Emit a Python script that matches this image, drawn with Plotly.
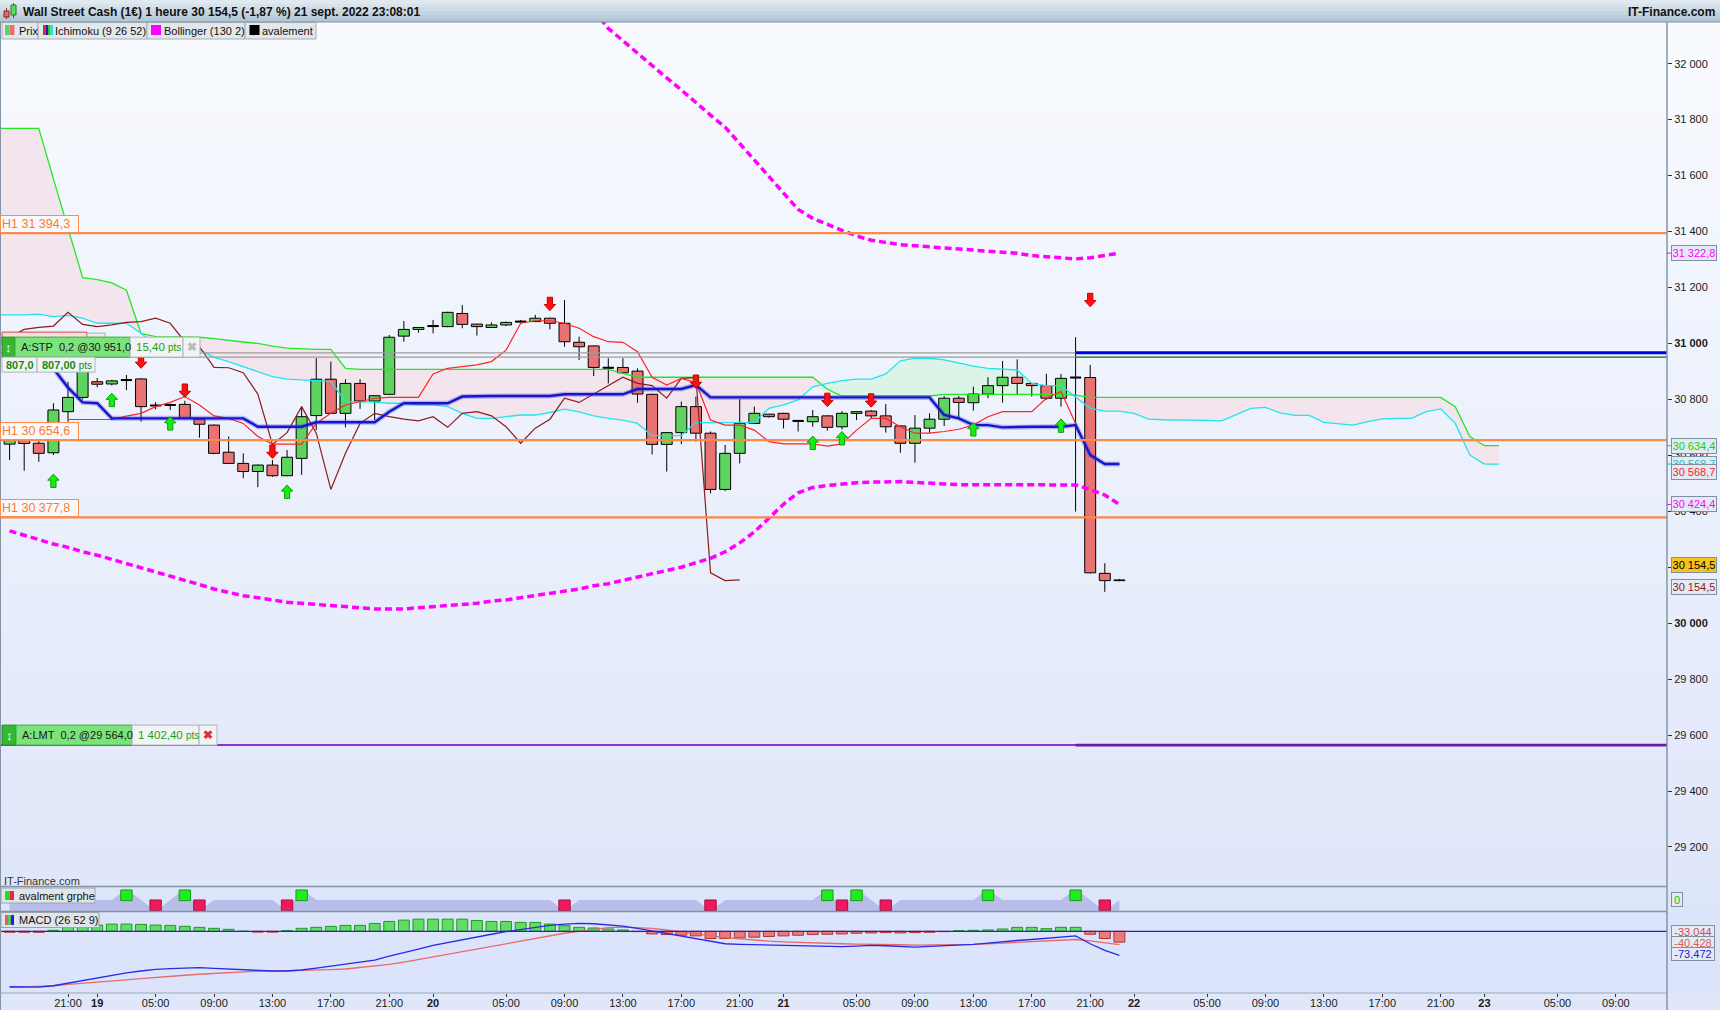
import plotly.graph_objects as go

W, H = 1720, 1010
FONT = "Liberation Sans, Arial, sans-serif"

# ---------------- data: hourly candles (bar index; 0 = Fri 21:00) ----------------
bar_index = list(range(-4, 73))
opens = [30640, 30665, 30643, 30609, 30756, 30807, 30863, 30855, 30869, 30873,
         30778, 30780, 30782, 30729, 30708, 30611, 30571, 30542, 30565, 30527,
         30589, 30742, 30872, 30750, 30857, 30794, 30818, 31026, 31050, 31062,
         31060, 31107, 31069, 31057, 31066, 31078, 31078, 31090, 31072, 31004,
         30991, 30913, 30914, 30901, 30818, 30639, 30681, 30774, 30679, 30478,
         30607, 30714, 30747, 30750, 30723, 30720, 30741, 30702, 30750, 30758,
         30741, 30705, 30643, 30697, 30729, 30804, 30788, 30819, 30849, 30879,
         30857, 30849, 30804, 30878, 30878, 30178, 30152]
highs = [30668, 30675, 30662, 30786, 30863, 30935, 30876, 30870, 30887, 30876,
         30790, 30784, 30795, 30731, 30710, 30667, 30607, 30567, 30583, 30619,
         30774, 30947, 30935, 30872, 30872, 30815, 31030, 31080, 31058, 31084,
         31113, 31137, 31070, 31075, 31078, 31084, 31102, 31092, 31155, 31024,
         30992, 30947, 30947, 30911, 30820, 30683, 30792, 30810, 30685, 30637,
         30801, 30774, 30748, 30752, 30725, 30762, 30743, 30758, 30758, 30762,
         30783, 30707, 30744, 30750, 30812, 30812, 30845, 30879, 30937, 30943,
         30858, 30891, 30891, 31022, 30923, 30214, 30158]
lows = [30583, 30545, 30577, 30601, 30720, 30800, 30843, 30850, 30833, 30720,
        30764, 30762, 30728, 30663, 30604, 30570, 30518, 30486, 30523, 30525,
        30530, 30690, 30748, 30700, 30766, 30726, 30815, 31006, 31038, 31036,
        31058, 31054, 31028, 31055, 31062, 31074, 31077, 31050, 30988, 30941,
        30883, 30857, 30893, 30788, 30603, 30542, 30640, 30649, 30464, 30472,
        30571, 30712, 30735, 30696, 30685, 30702, 30688, 30693, 30726, 30732,
        30681, 30609, 30574, 30679, 30705, 30730, 30760, 30804, 30788, 30819,
        30810, 30798, 30774, 30399, 30178, 30112, 30150]
closes = [30660, 30642, 30607, 30762, 30807, 30905, 30854, 30866, 30869, 30774,
          30778, 30780, 30732, 30711, 30607, 30571, 30542, 30565, 30527, 30593,
          30738, 30872, 30750, 30857, 30794, 30813, 31022, 31050, 31057, 31062,
          31111, 31068, 31060, 31066, 31075, 31078, 31090, 31072, 31006, 30988,
          30914, 30913, 30895, 30819, 30639, 30681, 30774, 30679, 30478, 30607,
          30714, 30750, 30738, 30729, 30723, 30738, 30700, 30750, 30756, 30741,
          30702, 30643, 30697, 30729, 30804, 30789, 30819, 30849, 30879, 30857,
          30849, 30804, 30875, 30878, 30180, 30152, 30154.5]

# ---------------- Ichimoku (9 26 52) ----------------
tenkan_index = list(range(0, 73))
tenkan = [30728, 30728, 30728, 30728, 30740, 30750, 30774, 30789, 30810, 30780,
          30741, 30732, 30714, 30667, 30640, 30640, 30640, 30714, 30750, 30780,
          30792, 30804, 30807, 30807, 30807, 30891, 30911, 30917, 30923, 30935,
          30976, 31072, 31081, 31081, 31072, 31054, 31024, 31006, 31004, 30970,
          30879, 30851, 30875, 30860, 30726, 30708, 30708, 30690, 30649, 30641,
          30641, 30641, 30633, 30641, 30690, 30732, 30732, 30702, 30679, 30679,
          30685, 30693, 30708, 30738, 30756, 30756, 30756, 30804, 30828, 30714,
          30600, 30568.7, 30568.7]
kijun_index = list(range(-1, 73))
kijun = [30910, 30842, 30789, 30786, 30732, 30732, 30732, 30732, 30732, 30732,
         30732, 30732, 30732, 30732, 30702, 30702, 30702, 30702, 30718, 30718,
         30718, 30718, 30718, 30756, 30786, 30786, 30786, 30786, 30810, 30812,
         30812, 30812, 30812, 30812, 30812, 30818, 30818, 30818, 30818, 30818,
         30837, 30837, 30837, 30837, 30851, 30807, 30807, 30807, 30807, 30807,
         30807, 30807, 30807, 30807, 30807, 30807, 30807, 30807, 30807, 30807,
         30807, 30744, 30732, 30708, 30708, 30700, 30702, 30702, 30702, 30702,
         30708, 30601, 30568.7, 30568.7]
senkou_index = list(range(-5, 99))
senkou_a = [31769, 31769, 31769, 31769, 31588, 31412, 31235, 31228, 31216, 31190, 31036,
            31024, 31024, 31022, 31022, 31017, 31010, 31005, 31000, 30990, 30983,
            30980, 30979, 30979, 30911, 30907, 30907, 30907, 30907, 30907, 30907,
            30907, 30907, 30907, 30907, 30907, 30907, 30907, 30907, 30907, 30907,
            30907, 30907, 30893, 30879, 30879, 30879, 30879, 30879, 30879, 30879,
            30879, 30879, 30879, 30879, 30879, 30879, 30836, 30812, 30812, 30812,
            30812, 30812, 30812, 30812, 30818, 30818, 30818, 30818, 30818, 30818,
            30818, 30818, 30818, 30815, 30807, 30807, 30807, 30807, 30807, 30807,
            30807, 30807, 30807, 30807, 30807, 30807, 30807, 30807, 30807, 30807,
            30807, 30807, 30807, 30807, 30807, 30807, 30807, 30807, 30807, 30774,
            30667, 30634.4, 30634.4]
senkou_b = [31102, 31102, 31102, 31105, 31096, 31100, 31090, 31072, 31072, 31072, 31036,
            30995, 30980, 30975, 30978, 30950, 30935, 30917, 30899, 30881, 30872,
            30870, 30867, 30864, 30792, 30792, 30790, 30786, 30786, 30780, 30780,
            30774, 30750, 30732, 30732, 30738, 30744, 30744, 30753, 30765, 30755,
            30741, 30732, 30726, 30714, 30670, 30670, 30670, 30717, 30717, 30717,
            30717, 30717, 30768, 30780, 30798, 30845, 30857, 30867, 30872, 30872,
            30891, 30938, 30947, 30947, 30941, 30929, 30919, 30911, 30909, 30905,
            30857, 30849, 30849, 30810, 30768, 30758, 30758, 30750, 30729, 30727,
            30727, 30727, 30725, 30723, 30746, 30768, 30771, 30752, 30743, 30743,
            30718, 30712, 30708, 30720, 30730, 30732, 30732, 30756, 30766, 30714,
            30601, 30568.7, 30568.7]
chikou_lag = 26

# ---------------- Bollinger (130 2) ----------------
boll_up_index = list(range(36, 73))
boll_up = [32192, 32126, 32082, 32039, 31992, 31949, 31906, 31859, 31816, 31773,
           31714, 31655, 31596, 31537, 31479, 31447, 31424, 31404, 31384, 31369,
           31361, 31353, 31349, 31345, 31341, 31337, 31333, 31330, 31326, 31322,
           31314, 31310, 31306, 31302, 31306, 31314, 31322.8]
boll_low = [30330, 30314, 30298, 30283, 30271, 30255, 30243, 30228, 30216, 30200,
            30185, 30169, 30153, 30138, 30122, 30110, 30098, 30091, 30083, 30075,
            30071, 30067, 30063, 30059, 30055, 30051, 30051, 30051, 30055, 30059,
            30063, 30067, 30071, 30079, 30083, 30091, 30098, 30106, 30114, 30122,
            30134, 30141, 30153, 30165, 30177, 30189, 30200, 30216, 30232, 30255,
            30287, 30326, 30377, 30425, 30466, 30485, 30492, 30498, 30502, 30504,
            30506, 30506, 30503, 30500, 30498, 30495, 30495, 30495, 30495, 30495,
            30495, 30495, 30495, 30494, 30478, 30458, 30424.4]

# ---------------- levels / orders ----------------
h1_levels = [31394.3, 30654.6, 30377.8]
stop_level = 30951.0
stop_target = 30966.4
limit_level = 29564.0
order_bar = 69

# ---------------- avalement signals ----------------
sell_arrow_bars = [5, 8, 14, 33, 43, 52, 55, 70]
sell_arrow_tips = [30911, 30807, 30589, 31117, 30839, 30774, 30772, 31131]
buy_arrow_bars = [-1, 3, 7, 15, 51, 53, 62, 68]
buy_arrow_tips = [30533, 30822, 30738, 30494, 30669, 30685, 30717, 30730]
aval_buy_bars = [4, 8, 16, 52, 54, 63, 69]
aval_sell_bars = [6, 9, 15, 34, 44, 53, 56, 71]

# ---------------- MACD (26 52 9) ----------------
macd = [-169, -170, -170, -166, -158, -150, -143, -134, -127, -121,
        -116, -114, -112, -111, -113, -115, -117, -120, -121, -121,
        -118, -112, -107, -100, -94, -88, -76, -66, -54, -43,
        -34, -25, -17, -9, -1, 6, 12, 18, 22, 24,
        23, 20, 16, 9, 1, -7, -14, -22, -32, -38,
        -40, -41, -42, -43, -44, -45, -46, -47, -45, -43,
        -44, -46, -48, -46, -44, -43, -40, -36, -31, -28,
        -25, -22, -19, -14, -38, -58, -73.472]
signal = [-171, -170, -168, -166, -162, -159, -155, -152, -148, -144,
          -140, -137, -134, -131, -128, -126, -124, -122, -121, -121,
          -121, -119, -117, -115, -111, -107, -101, -94, -86, -78,
          -70, -62, -54, -46, -37, -29, -21, -13, -6, 0,
          6, 11, 13, 12, 9, 4, -2, -8, -14, -19,
          -23, -27, -30, -32, -34, -36, -37, -38, -39, -39,
          -40, -41, -42, -42, -42, -41, -40, -38, -36, -34,
          -32, -30, -28, -25, -29, -35, -40.428]
hist = [-3, -3, -3, 3, 14, 17, 19, 22, 22, 21,
        19, 18, 15, 12, 9, 6, 0, -2.5, -2.5, 2,
        9, 12, 15, 18, 18, 24, 30, 34, 37, 37,
        37, 37, 33, 30, 30, 27, 27, 22, 17, 12,
        10, 7, 4, -1, -8, -10, -12, -14, -22, -22,
        -20, -18, -16, -14, -12, -10, -9, -8, -6, -5,
        -4, -5, -4, -3, -1, 2, 3, 4, 7, 12,
        12, 8, 12, 12, -9, -22, -33.044]

# ---------------- axes labels ----------------
tick_bars = [0, 2, 6, 10, 14, 18, 22, 25, 30, 34, 38, 42, 46, 49, 54, 58, 62, 66,
             70, 73, 78, 82, 86, 90, 94, 97, 102, 106]
tick_labels = ['21:00', '<b>19</b>', '05:00', '09:00', '13:00', '17:00', '21:00', '<b>20</b>',
               '05:00', '09:00', '13:00', '17:00', '21:00', '<b>21</b>', '05:00', '09:00',
               '13:00', '17:00', '21:00', '<b>22</b>', '05:00', '09:00', '13:00', '17:00',
               '21:00', '<b>23</b>', '05:00', '09:00']
price_ticks = [29200, 29400, 29600, 29800, 30000, 30200, 30400, 30600, 30800,
               31000, 31200, 31400, 31600, 31800, 32000]
price_tick_text = ['29 200', '29 400', '29 600', '29 800', '<b>30 000</b>', '30 200', '30 400',
                   '30 600', '30 800', '<b>31 000</b>', '31 200', '31 400', '31 600', '31 800', '32 000']

for arr in (opens, highs, lows, closes, boll_low, macd, signal, hist):
    assert len(arr) == len(bar_index)
assert len(tenkan) == len(tenkan_index) and len(kijun) == len(kijun_index)
assert len(senkou_a) == len(senkou_index) and len(senkou_b) == len(senkou_index)
assert len(boll_up) == len(boll_up_index)

# ---------------- geometry ----------------
PLOT_RIGHT = 1667
X_RANGE = [-4.657, 109.5]
MAIN_TOP, MAIN_BOT = 22, 886
AVAL_TOP, AVAL_BOT = 887, 911
MACD_TOP, MACD_BOT = 912, 993
MAIN_RANGE = [29060.4, 32148.9]
AVAL_RANGE = [-1.0, 1.18]
MACD_RANGE = [-188.1, 58.8]
BODY_W = 0.75


def xp(px):
    return px / W


def yp(py):
    return 1 - py / H


def price_px(p):
    return MAIN_TOP + (MAIN_RANGE[1] - p) / (MAIN_RANGE[1] - MAIN_RANGE[0]) * (MAIN_BOT - MAIN_TOP)


def fmt_price(v):
    return f"{v:,.1f}".replace(",", " ").replace(".", ",")


shapes = []
annotations = []


def rect(x0, y0, x1, y1, fill, line=None, lw=1, layer='above'):
    shapes.append(dict(type='rect', xref='paper', yref='paper', x0=xp(x0), x1=xp(x1),
                       y0=yp(y1), y1=yp(y0), fillcolor=fill,
                       line=dict(color=line if line else fill, width=lw if line else 0),
                       layer=layer))


def pline(x0, y0, x1, y1, color, w=1, layer='above'):
    shapes.append(dict(type='line', xref='paper', yref='paper', x0=xp(x0), x1=xp(x1),
                       y0=yp(y0), y1=yp(y1), line=dict(color=color, width=w), layer=layer))


def text(px, py, s, size=11, color='#111111', xanchor='left', yanchor='middle', **kw):
    annotations.append(dict(xref='paper', yref='paper', x=xp(px), y=yp(py), text=s,
                            showarrow=False, xanchor=xanchor, yanchor=yanchor,
                            font=dict(family=FONT, size=size, color=color), **kw))


def lerp(c1, c2, t):
    return 'rgb(%d,%d,%d)' % tuple(round(a + (b - a) * t) for a, b in zip(c1, c2))


# ---------------- backgrounds ----------------
n = 6
for k in range(n):
    rect(0, 22 * k / n, W, 22 * (k + 1) / n + 0.6,
         lerp((224, 233, 240), (178, 198, 213), k / (n - 1)), layer='below')
n = 40
for k in range(n):
    y0 = MAIN_TOP + (MAIN_BOT - MAIN_TOP) * k / n
    y1 = MAIN_TOP + (MAIN_BOT - MAIN_TOP) * (k + 1) / n
    rect(0, y0, W, y1 + 0.6, lerp((248, 250, 254), (224, 231, 250), k / (n - 1)), layer='below')
rect(0, MAIN_BOT, W, AVAL_BOT, 'rgb(221,229,250)', layer='below')
rect(0, AVAL_BOT, W, MACD_BOT, 'rgb(219,228,250)', layer='below')
rect(0, MACD_BOT, W, H, 'rgb(224,231,249)', layer='below')

# ---------------- kumo (cloud) as below-layer polygons ----------------
lower_env = [min(a, b) for a, b in zip(senkou_a, senkou_b)]


def band_path(xs, top, bottom):
    pts = list(zip(xs, top)) + list(zip(xs[::-1], bottom[::-1]))
    return 'M ' + ' L '.join(f'{x},{y}' for x, y in pts) + ' Z'


shapes.append(dict(type='path', xref='x', yref='y', layer='below', fillcolor='#f2e5ee',
                   line=dict(width=0), path=band_path(senkou_index, senkou_a, lower_env)))
shapes.append(dict(type='path', xref='x', yref='y', layer='below', fillcolor='#dcf4e8',
                   line=dict(width=0), path=band_path(senkou_index, senkou_b, lower_env)))

# ---------------- traces ----------------
fig = go.Figure()
common = dict(hoverinfo='skip', showlegend=False)

# candle bodies
body_base = [min(o, c) for o, c in zip(opens, closes)]
body_len = [abs(c - o) for o, c in zip(opens, closes)]
body_col = ['#5fd35f' if c > o else '#e97272' for o, c in zip(opens, closes)]
fig.add_trace(go.Bar(x=bar_index, y=body_len, base=body_base, width=BODY_W,
                     marker=dict(color=body_col, line=dict(color='#000000', width=1)), **common))
# wicks (above and below the body) and doji bars
wx, wy, dx, dy = [], [], [], []
for i, o, h, l, c in zip(bar_index, opens, highs, lows, closes):
    top, bot = max(o, c), min(o, c)
    wx += [i, i, None, i, i, None]
    wy += [h, top, None, bot, l, None]
    if o == c:
        dx += [i - BODY_W / 2, i + BODY_W / 2, None]
        dy += [o, c, None]
fig.add_trace(go.Scatter(x=wx, y=wy, mode='lines', line=dict(color='#000000', width=1), **common))
fig.add_trace(go.Scatter(x=dx, y=dy, mode='lines', line=dict(color='#000000', width=2), **common))

fig.add_trace(go.Scatter(x=senkou_index, y=senkou_a, mode='lines',
                         line=dict(color='#22e822', width=1.3), **common))
fig.add_trace(go.Scatter(x=senkou_index, y=senkou_b, mode='lines',
                         line=dict(color='#22e4ee', width=1.3), **common))
fig.add_trace(go.Scatter(x=bar_index[:-chikou_lag], y=closes[chikou_lag:], mode='lines',
                         line=dict(color='#8e1c1c', width=1.2), **common))
fig.add_trace(go.Scatter(x=tenkan_index, y=tenkan, mode='lines',
                         line=dict(color='#ff2424', width=1.2), **common))
fig.add_trace(go.Scatter(x=kijun_index, y=kijun, mode='lines',
                         line=dict(color='rgba(70,70,235,0.35)', width=5), **common))
fig.add_trace(go.Scatter(x=kijun_index, y=kijun, mode='lines',
                         line=dict(color='#1616c8', width=2.4), **common))
fig.add_trace(go.Scatter(x=boll_up_index, y=boll_up, mode='lines',
                         line=dict(color='#ff00ff', width=3.5, dash='7px,4px'), **common))
fig.add_trace(go.Scatter(x=bar_index, y=boll_low, mode='lines',
                         line=dict(color='#ff00ff', width=3.5, dash='7px,4px'), **common))

# avalement panel area
aval_values = [1 if i in aval_buy_bars else (-1 if i in aval_sell_bars else 0) for i in bar_index]
fig.add_trace(go.Scatter(x=bar_index, y=[AVAL_RANGE[0]] * len(bar_index), yaxis='y2', mode='lines',
                         line=dict(width=0), **common))
fig.add_trace(go.Scatter(x=bar_index, y=aval_values, yaxis='y2', mode='lines', line=dict(width=0),
                         fill='tonexty', fillcolor='#b8bee9', **common))

# MACD panel
fig.add_trace(go.Bar(x=bar_index, y=hist, yaxis='y3', width=BODY_W,
                     marker=dict(color=['#62dc62' if v >= 0 else '#ea7b7b' for v in hist],
                                 line=dict(color=['#1e9a1e' if v >= 0 else '#b03434' for v in hist],
                                           width=1)), **common))
fig.add_trace(go.Scatter(x=bar_index, y=signal, yaxis='y3', mode='lines',
                         line=dict(color='#e86a6a', width=1.3), **common))
fig.add_trace(go.Scatter(x=bar_index, y=macd, yaxis='y3', mode='lines',
                         line=dict(color='#2a2ae6', width=1.3), **common))

# ---------------- level lines ----------------
for lvl in h1_levels:
    shapes.append(dict(type='line', xref='paper', yref='y', x0=0, x1=xp(PLOT_RIGHT), y0=lvl, y1=lvl,
                       line=dict(color='#fb8a48', width=2.2)))
for lvl in (stop_target, stop_level):
    shapes.append(dict(type='line', xref='x', yref='y', x0=X_RANGE[0], x1=order_bar, y0=lvl, y1=lvl,
                       line=dict(color='#9c9c9c', width=1.3)))
shapes.append(dict(type='line', xref='x', yref='y', x0=order_bar, x1=X_RANGE[1], y0=stop_target,
                   y1=stop_target, line=dict(color='#0000f0', width=3)))
shapes.append(dict(type='line', xref='x', yref='y', x0=order_bar, x1=X_RANGE[1], y0=stop_level,
                   y1=stop_level, line=dict(color='#0b6e0b', width=1.3)))
shapes.append(dict(type='line', xref='paper', yref='y', x0=0, x1=xp(PLOT_RIGHT), y0=limit_level,
                   y1=limit_level, line=dict(color='#8a35cc', width=2)))
shapes.append(dict(type='line', xref='x', yref='y', x0=order_bar, x1=X_RANGE[1], y0=limit_level,
                   y1=limit_level, line=dict(color='#6a1ca8', width=2.6)))


# ---------------- arrows ----------------
def arrow_path(i, tip, down):
    hw, sw, hh, tot = 0.39, 0.18, 22.0, 48.0
    s = 1 if down else -1
    pts = [(i, tip), (i - hw, tip + s * hh), (i - sw, tip + s * hh), (i - sw, tip + s * tot),
           (i + sw, tip + s * tot), (i + sw, tip + s * hh), (i + hw, tip + s * hh)]
    return 'M ' + ' L '.join(f'{x:.3f},{y:.2f}' for x, y in pts) + ' Z'


for b, t in zip(sell_arrow_bars, sell_arrow_tips):
    shapes.append(dict(type='path', xref='x', yref='y', path=arrow_path(b, t, True),
                       fillcolor='#ff1010', line=dict(color='#c80000', width=1)))
for b, t in zip(buy_arrow_bars, buy_arrow_tips):
    shapes.append(dict(type='path', xref='x', yref='y', path=arrow_path(b, t, False),
                       fillcolor='#14ee14', line=dict(color='#0ca00c', width=1)))

# avalement squares
for b in aval_buy_bars:
    shapes.append(dict(type='rect', xref='x', yref='y2', x0=b - 0.39, x1=b + 0.39, y0=-0.06, y1=0.91,
                       fillcolor='#20ec20', line=dict(color='#12a012', width=1)))
for b in aval_sell_bars:
    shapes.append(dict(type='rect', xref='x', yref='y2', x0=b - 0.39, x1=b + 0.39, y0=-0.97, y1=0.0,
                       fillcolor='#ee1a60', line=dict(color='#a8103c', width=1)))

# MACD zero line
shapes.append(dict(type='line', xref='paper', yref='y3', x0=0, x1=xp(PLOT_RIGHT), y0=0, y1=0,
                   line=dict(color='#2424c0', width=1.2)))

# ---------------- frame lines ----------------
pline(0, 22, W, 22, '#7890a2', 1)
pline(PLOT_RIGHT, 22, PLOT_RIGHT, H, '#8494a6', 1.5)
pline(0.5, 22, 0.5, H, '#8494a6', 1)
pline(0, MAIN_BOT + 0.5, PLOT_RIGHT, MAIN_BOT + 0.5, '#8494a6', 1.3)
pline(0, AVAL_BOT + 0.5, PLOT_RIGHT, AVAL_BOT + 0.5, '#8494a6', 1.3)
pline(0, MACD_BOT, PLOT_RIGHT, MACD_BOT, '#9aa8b8', 1)

# ---------------- title bar & legend ----------------
pline(6.5, 8, 6.5, 19, '#7a4040', 1)
rect(4, 11, 9, 17, '#e86b6b', '#8a2020', 1)
pline(13.5, 3, 13.5, 18, '#207020', 1)
rect(11, 5, 16, 15, '#62d862', '#1e7a1e', 1)
text(21, 11.5, '<b>Wall Street Cash (1€) 1 heure 30 154,5 (-1,87 %) 21 sept. 2022 23:08:01</b>', 12, '#101010')
text(1717, 11.5, '<b>IT-Finance.com</b>', 12, '#101010', xanchor='right')

legend_boxes = [(2, 38, 'Prix'), (38, 147, 'Ichimoku (9 26 52)'), (147, 245, 'Bollinger (130 2)'),
                (245, 316, 'avalement')]
for x0, x1, s in legend_boxes:
    rect(x0, 22.5, x1, 39, '#e2e7eb', '#a2acb6', 1)
    text(x0 + 15, 31, s, 11, '#111111')
rect(5, 25, 9.7, 35, '#5fd35f')
rect(9.7, 25, 14.5, 35, '#e97070')
for k, c in enumerate(['#ee2020', '#1a1ad0', '#20d020', '#20e0e8']):
    rect(43 + 2.5 * k, 25, 45.5 + 2.5 * k, 35, c)
rect(151, 25, 161, 35, '#ff00ff')
rect(249.5, 25, 259.5, 35, '#000000')

# ---------------- left labels ----------------
for lvl in h1_levels:
    annotations.append(dict(xref='paper', yref='y', x=0, y=lvl, xanchor='left', yanchor='bottom',
                            text='H1 ' + fmt_price(lvl), showarrow=False, align='left',
                            font=dict(family=FONT, size=12.5, color='#ff7a2e'),
                            bgcolor='#f7f9fd', bordercolor='#ff8c4a', borderwidth=1, borderpad=1,
                            width=75, height=14))

# stop order label
sy = price_px(stop_level)
rect(2, sy - 25, 87, sy - 12, '#f6dede', '#d04848', 1)
rect(87, sy - 24, 105, sy - 12, '#eceeef', '#a8acb0', 1)
rect(2, sy - 20, 15, sy, '#34b834', '#1f8f1f', 1)
rect(15, sy - 20, 130, sy, '#7ce27c', '#3cb03c', 1)
rect(130, sy - 20, 183, sy, '#f2f3f4', '#b0b4b8', 1)
rect(183, sy - 20, 200, sy, '#f2f3f4', '#b0b4b8', 1)
rect(2, sy, 37, sy + 15, '#f2f3f4', '#b0b4b8', 1)
rect(37, sy, 95, sy + 15, '#f2f3f4', '#b0b4b8', 1)
text(8.5, sy - 10, '<b>↕</b>', 13, '#ffffff', xanchor='center')
text(19, sy - 10, 'A:STP\u00a0 0,2 @30 951,0', 11, '#102010')
text(134, sy - 10, '15,40 <span style="font-size:10px">pts</span>', 11.5, '#16a016')
text(191.5, sy - 10, '<b>✖</b>', 12, '#b8babc', xanchor='center')
text(4, sy + 7.5, '<b>807,0</b>', 11, '#168c16')
text(40, sy + 7.5, '<b>807,00</b> <span style="font-size:10px">pts</span>', 11, '#168c16')

# limit order label
ly = price_px(limit_level)
rect(2, ly - 20, 16, ly, '#34b834', '#1f8f1f', 1)
rect(16, ly - 20, 132, ly, '#7ce27c', '#3cb03c', 1)
rect(132, ly - 20, 199, ly, '#f2f3f4', '#b0b4b8', 1)
rect(199, ly - 20, 217, ly, '#f2f3f4', '#b0b4b8', 1)
text(9, ly - 10, '<b>↕</b>', 13, '#ffffff', xanchor='center')
text(20, ly - 10, 'A:LMT\u00a0 0,2 @29 564,0', 11, '#102010')
text(136, ly - 10, '1 402,40 <span style="font-size:10px">pts</span>', 11.5, '#16a016')
text(208, ly - 10, '<b>✖</b>', 12, '#e03030', xanchor='center')

text(2, 881, 'IT-Finance.com', 11, '#333333')

# sub-panel labels
rect(1, 888, 95, 903, '#dfe5ea', '#98a4ae', 1)
rect(5, 891, 9.5, 900, '#22dd22')
rect(9.5, 891, 14, 900, '#ee2255')
text(17, 895.5, 'avalment grphe', 11, '#111111')
rect(1, 912.5, 99, 927.5, '#dfe5ea', '#98a4ae', 1)
for k, c in enumerate(['#e06060', '#60c060', '#2020e0']):
    rect(5 + 3 * k, 915, 8 + 3 * k, 925, c)
text(17, 920, 'MACD (26 52 9)', 11, '#111111')

# ---------------- right-side value tags ----------------
price_tags = [(31322.8, '#ff00ff', '#e4eaf4', 0), (30634.4, '#00dd00', '#e4eaf4', 0),
              (30568.7, '#00c8d0', '#e4eaf4', 0), (30568.7, '#ff2020', '#e4eaf4', -8),
              (30424.4, '#ff00ff', '#e4eaf4', 0), (30154.5, '#8b1a1a', '#e4eaf4', -7),
              (30154.5, '#000000', '#f7c21a', 15)]
for v, c, bg, shift in price_tags:
    if shift == 0:
        shapes.append(dict(type='line', xref='paper', yref='y', x0=xp(PLOT_RIGHT), x1=xp(PLOT_RIGHT + 5),
                           y0=v, y1=v, line=dict(color=c, width=1)))
    annotations.append(dict(xref='paper', yref='y', x=xp(1671), y=v, xanchor='left', yanchor='middle',
                            yshift=shift, text=fmt_price(v), showarrow=False,
                            font=dict(family=FONT, size=11, color=c), bgcolor=bg,
                            bordercolor='#8090a2', borderwidth=1, borderpad=1, width=42, height=12))
annotations.append(dict(xref='paper', yref='y2', x=xp(1671), y=0, xanchor='left', yanchor='middle',
                        text='0', showarrow=False, font=dict(family=FONT, size=11, color='#00cc00'),
                        bgcolor='#e4eaf4', bordercolor='#8090a2', borderwidth=1, borderpad=1,
                        width=8, height=11))
macd_tags = [(hist[-1], '#d04a4a', 10), (signal[-1], '#e05a5a', 2), (macd[-1], '#2020e0', 1)]
for v, c, shift in macd_tags:
    annotations.append(dict(xref='paper', yref='y3', x=xp(1671), y=v, xanchor='left', yanchor='middle',
                            yshift=shift, text=f"{v:.3f}".replace('.', ','), showarrow=False,
                            font=dict(family=FONT, size=11, color=c), bgcolor='#e4eaf4',
                            bordercolor='#8090a2', borderwidth=1, borderpad=1, width=40, height=10))

# ---------------- layout ----------------
fig.update_layout(
    width=W, height=H, margin=dict(l=0, r=0, t=0, b=0, pad=0),
    paper_bgcolor='#e6ecf8', plot_bgcolor='rgba(0,0,0,0)', showlegend=False,
    barmode='overlay', font=dict(family=FONT),
    xaxis=dict(domain=[0, PLOT_RIGHT / W], range=X_RANGE, anchor='y3', tickmode='array',
               tickvals=tick_bars, ticktext=tick_labels, ticks='outside', ticklen=3,
               tickcolor='#333333', tickfont=dict(family=FONT, size=11, color='#1a1a1a'),
               ticklabelstandoff=-3,
               showgrid=False, zeroline=False, showline=False, fixedrange=True, automargin=False),
    yaxis=dict(domain=[1 - MAIN_BOT / H, 1 - MAIN_TOP / H], range=MAIN_RANGE, side='right', anchor='x',
               tickmode='array', tickvals=price_ticks, ticktext=price_tick_text, ticks='outside',
               ticklen=4, tickcolor='#333333', tickfont=dict(family=FONT, size=11, color='#1a1a1a'),
               showgrid=False, zeroline=False, showline=False, fixedrange=True, automargin=False),
    yaxis2=dict(domain=[1 - AVAL_BOT / H, 1 - AVAL_TOP / H], range=AVAL_RANGE, anchor='x',
                showticklabels=False, ticks='', showgrid=False, zeroline=False, fixedrange=True),
    yaxis3=dict(domain=[1 - MACD_BOT / H, 1 - MACD_TOP / H], range=MACD_RANGE, anchor='x',
                showticklabels=False, ticks='', showgrid=False, zeroline=False, fixedrange=True),
    shapes=shapes, annotations=annotations,
)

fig.write_html("out.html", config={'displayModeBar': False},
               post_script="document.body.style.margin='0';document.body.style.overflow='hidden';")
